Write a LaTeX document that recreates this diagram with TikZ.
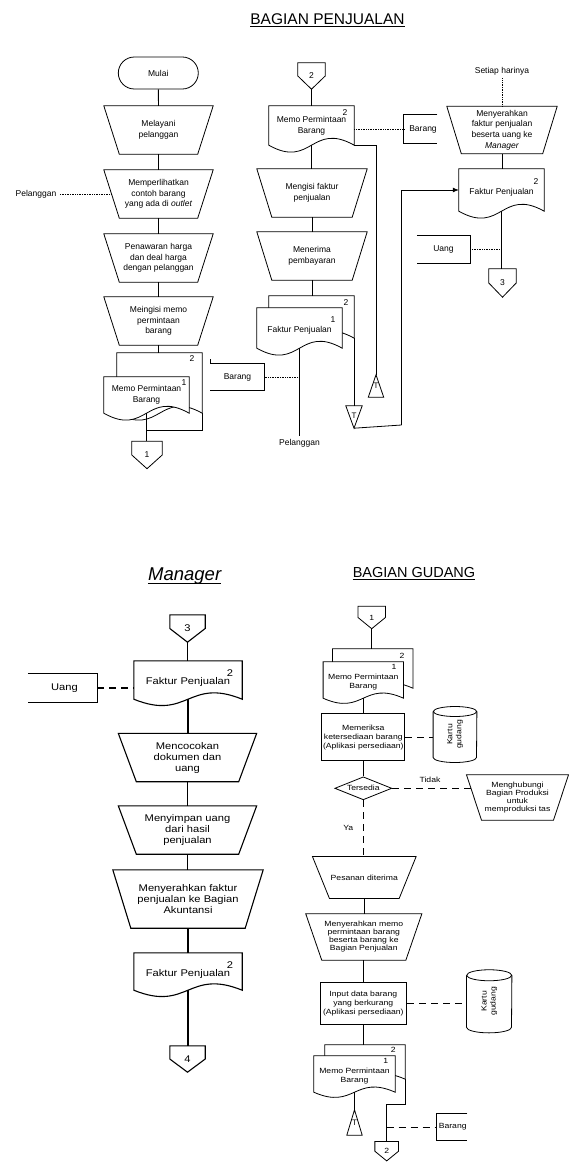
\documentclass[tikz,border=0pt]{standalone}
\usepackage{fontspec}
\setmainfont{Liberation Sans}
\newfontfamily\gfont[FakeStretch=1.15]{Liberation Sans}
\usetikzlibrary{calc,shapes.geometric,arrows.meta}
\pgfdeclarelayer{back}
\pgfdeclarelayer{bg}
\pgfsetlayers{back,bg,main}

\newcommand\docout[3][shp]{\begin{pgfonlayer}{bg}\draw[#1,fill=white] (#2.south west) -- (#2.north west) -- (#2.north east) -- (#2.south east) .. controls ($(#2.south)+(0,-#3)$) and ($(#2.south)+(0,#3)$) .. (#2.south west) -- cycle;\end{pgfonlayer}}
\newcommand\trapout[3][shp]{\begin{pgfonlayer}{bg}\draw[#1] (#2.north west) -- (#2.north east) -- ($(#2.south east)+(-#3,0)$) -- ($(#2.south west)+(#3,0)$) -- cycle;\end{pgfonlayer}}
\newcommand\offout[2][shp]{\begin{pgfonlayer}{bg}\draw[#1] (#2.north west) -- (#2.north east) -- (#2.east) -- (#2.south) -- (#2.west) -- cycle;\end{pgfonlayer}}
\newcommand\triup[2][shp]{\begin{pgfonlayer}{bg}\draw[#1] (#2.south west) -- (#2.north) -- (#2.south east) -- cycle;\end{pgfonlayer}}
\newcommand\tridown[2][shp]{\begin{pgfonlayer}{bg}\draw[#1] (#2.north west) -- (#2.north east) -- (#2.south) -- cycle;\end{pgfonlayer}}
\newcommand\openleft[2][shp]{\begin{pgfonlayer}{bg}\draw[#1] (#2.north west) -- (#2.north east) -- (#2.south east) -- (#2.south west);\end{pgfonlayer}}
\newcommand\openright[2][shp]{\begin{pgfonlayer}{bg}\draw[#1] (#2.north east) -- (#2.north west) -- (#2.south west) -- (#2.south east);\end{pgfonlayer}}
\newcommand\cylout[4][shp]{\begin{pgfonlayer}{bg}\draw[#1] ($(#2.north west)+(0,#4)$) -- ($(#2.south west)+(0,-#4)$) arc[start angle=180, end angle=360, x radius=#3pt, y radius=#4pt] -- ($(#2.north east)+(0,#4)$);
\draw[#1] ($(#2.north)+(0,#4)$) ellipse[x radius=#3pt, y radius=#4pt];\end{pgfonlayer}}

\tikzset{
  shp/.style={draw=black, line width=0.8pt},
  shpb/.style={draw=black, line width=1.1pt},
  ln/.style={draw=black, line width=0.8pt},
  lnb/.style={draw=black, line width=1.1pt},
  dotl/.style={draw=black, line width=0.6pt, dash pattern=on 1pt off 0.7pt},
  dashl/.style={draw=black, line width=1.1pt, dash pattern=on 7pt off 5pt},
  bx/.style={rectangle, inner sep=0.5pt, align=center},
  tf/.style={font=\fontsize{8.5}{10.7}\selectfont},
  mf/.style={font=\gfont\fontsize{9.7}{11}\selectfont},
  gf/.style={font=\gfont\fontsize{7.5}{9}\selectfont},
  gft/.style={font=\gfont\fontsize{7.5}{8}\selectfont},
}

\begin{document}
\begin{tikzpicture}[x=1pt,y=-1pt]
\begin{pgfonlayer}{back}
\fill[white] (0,0) rectangle (569,1162);
\end{pgfonlayer}
\useasboundingbox (0,0) rectangle (569,1162);

% ================= BAGIAN PENJUALAN =================
\node[inner sep=0pt, anchor=base, font=\fontsize{15.5}{18}\selectfont] (ttl1) at (327.5,24) {BAGIAN PENJUALAN};
\draw[line width=0.9pt] ($(ttl1.base west)+(0,2.5)$) -- ($(ttl1.base east)+(0,2.5)$);

% --- left column
\node[tf, rectangle, rounded corners=16pt, draw, line width=0.8pt, minimum width=80pt, minimum height=32pt] (mulai) at (158.3,73) {Mulai};
\node[bx,tf,minimum width=109pt,minimum height=48pt] (t1) at (158.5,130) {Melayani\\pelanggan};
\trapout{t1}{15.5}
\node[bx,tf,minimum width=109pt,minimum height=48pt] (t2) at (158.5,194) {Memperlihatkan\\contoh barang\\yang ada di \textit{outlet}};
\trapout{t2}{15.5}
\node[bx,tf,minimum width=109pt,minimum height=48pt] (t3) at (158.5,258) {Penawaran harga\\dan deal harga\\dengan pelanggan};
\trapout{t3}{15.5}
\node[bx,tf,minimum width=109pt,minimum height=48pt] (t4) at (158.5,321) {Meingisi memo\\permintaan\\barang};
\trapout{t4}{15.5}

\node[bx,minimum width=85pt,minimum height=60pt] (m1b) at (159.5,383) {};
\docout{m1b}{24}
\node[bx,tf,minimum width=85pt,minimum height=36pt] (m1f) at (146.5,395) {Memo Permintaan\\Barang};
\docout{m1f}{24}
\node[tf,inner sep=0pt] (m1n2) at (192,359) {2};
\node[tf,inner sep=0pt] (m1n1) at (184,383) {1};

\node[bx,tf,minimum width=30pt,minimum height=27pt] (c1) at (147,455) {1};
\offout{c1}

\node[tf] (pel1) at (36,194) {Pelanggan};

\node[bx,tf,minimum width=54pt,minimum height=27pt] (brg1) at (237.5,377) {Barang};
\openleft{brg1}
\draw[shp] (brg1.north west) -- ++(0,-4);

\draw[ln] (mulai) -- (t1);
\draw[ln] (t1) -- (t2);
\draw[ln] (t2) -- (t3);
\draw[ln] (t3) -- (t4);
\draw[ln] (t4.south) -- (t4.south |- m1b.north);
\coordinate (j1) at (146.5,430);
\draw[ln] (m1b.south east) |- (j1);
\draw[ln] (m1f.south) -- (m1f.south |- c1.north);
\draw[dotl] (pel1.east) -- ($(t2.west)+(7.8,0)$);

% --- middle column
\node[bx,tf,minimum width=27pt,minimum height=26pt] (c2) at (311.5,76) {2};
\offout{c2}
\node[bx,tf,minimum width=85pt,minimum height=39pt] (d2) at (311.5,125.5) {Memo Permintaan\\Barang};
\docout{d2}{24}
\node[tf,inner sep=0pt] (d2n) at (345,113) {2};
\node[bx,tf,minimum width=33pt,minimum height=29pt] (brg2) at (420.5,129) {\hspace*{5pt}Barang};
\openright{brg2}
\node[bx,font=\fontsize{8}{9}\selectfont,minimum width=15pt,minimum height=22pt] (tu) at (376,386) {\raisebox{-3pt}{T}};
\triup{tu}
\node[bx,tf,minimum width=110pt,minimum height=48pt] (t5) at (312,193) {Mengisi faktur\\penjualan};
\trapout{t5}{15}
\node[bx,tf,minimum width=110pt,minimum height=48pt] (t6) at (312,256) {Menerima\\pembayaran};
\trapout{t6}{15}

\node[bx,minimum width=85pt,minimum height=42pt] (m2b) at (311.5,317) {};
\docout{m2b}{24}
\node[bx,tf,minimum width=85pt,minimum height=40pt] (m2f) at (299.5,328) {\\Faktur Penjualan};
\docout{m2f}{24}
\node[tf,inner sep=0pt] (m2n2) at (346,303) {2};
\node[tf,inner sep=0pt] (m2n1) at (333,320) {1};

\node[bx,font=\fontsize{8}{9}\selectfont,minimum width=16pt,minimum height=22pt] (td) at (354,417) {\raisebox{3pt}{T}};
\tridown{td}
\node[tf] (pel2) at (299.5,443) {Pelanggan};

\draw[ln] (c2.south) -- (c2.south |- d2.north);
\draw[dotl] (d2.east |- brg2.west) -- (brg2.west);
\draw[ln] (d2.south east) -| (tu.north);
\draw[ln] (d2.south) -- (d2.south |- t5.north);
\draw[ln] (t5) -- (t6);
\draw[ln] (t6.south) -- (t6.south |- m2b.north);
\draw[ln] (m2b.south east) -- (m2b.south east |- td.north);
\draw[ln] (m2f.south) -- (m2f.south |- pel2.north);
\draw[dotl] (brg1.east) -- (brg1.east -| m2f.south);

% --- right column
\node[tf] (set) at (502,71) {Setiap harinya};
\node[bx,font=\fontsize{8.5}{10.6}\selectfont,minimum width=110pt,minimum height=47pt] (t7) at (502,130) {Menyerahkan\\faktur penjualan\\beserta uang ke\\\textit{Manager}};
\trapout{t7}{14.5}
\node[bx,tf,minimum width=85pt,minimum height=42pt] (d3) at (501.5,190) {\\Faktur Penjualan};
\docout{d3}{24}
\node[tf,inner sep=0pt] (d3n) at (536,182) {2};
\node[bx,tf,minimum width=27pt,minimum height=28pt] (c3) at (502.5,283) {3};
\offout{c3}
\node[bx,tf,minimum width=53pt,minimum height=27pt] (uang1) at (443.5,249.5) {Uang};
\openleft{uang1}

\draw[dotl] (set.south) -- (set.south |- t7.north);
\draw[ln] (t7.south) -- (t7.south |- d3.north);
\draw[ln] (d3.south) -- (d3.south |- c3.north);
\draw[dotl] (uang1.east) -- (uang1.east -| d3.south);
\coordinate (jt) at (401.5,425);
\draw[ln] (td.south) -- (jt);
\draw[ln,-{Latex[length=6pt,width=5pt]}] (jt) |- (d3.west);

% ================= MANAGER =================
\node[inner sep=0pt, anchor=base, font=\fontsize{18.5}{22}\selectfont\itshape] (ttl2) at (184.7,580) {Manager};
\draw[line width=1pt] ($(ttl2.base west)+(0,3)$) -- ($(ttl2.base east)+(0,3)$);

\node[bx,mf,minimum width=35pt,minimum height=27pt] (c3b) at (187.5,628.5) {3};
\offout[shpb]{c3b}
\node[bx,mf,minimum width=108pt,minimum height=38pt] (d4) at (188,680) {\\Faktur Penjualan};
\docout[shpb]{d4}{22}
\node[mf,inner sep=0pt] (d4n) at (230,673) {2};
\node[bx,mf,minimum width=69pt,minimum height=28pt] (uang2) at (62.5,688) {\hspace*{4pt}Uang};
\openleft[shpb]{uang2}
\node[bx,mf,minimum width=138pt,minimum height=48pt] (t8) at (187.5,757.5) {Mencocokan\\dokumen dan\\uang};
\trapout[shpb]{t8}{18}
\node[bx,mf,minimum width=138pt,minimum height=48pt] (t9) at (187.5,830) {Menyimpan uang\\dari hasil\\penjualan};
\trapout[shpb]{t9}{18}
\node[bx,mf,minimum width=150pt,minimum height=58pt] (t10) at (188,899) {Menyerahkan faktur\\penjualan ke Bagian\\Akuntansi};
\trapout[shpb]{t10}{18}
\node[bx,mf,minimum width=108pt,minimum height=37pt] (d5) at (188,971.5) {\\Faktur Penjualan};
\docout[shpb]{d5}{22}
\node[mf,inner sep=0pt] (d5n) at (230,965) {2};
\node[bx,mf,minimum width=35pt,minimum height=26pt] (c4) at (187.5,1059) {4};
\offout[shpb]{c4}

\draw[lnb] (c3b.south) -- (c3b.south |- d4.north);
\draw[dashl] (uang2.east) -- (uang2.east -| d4.west);
\draw[lnb] (d4.south) -- (d4.south |- t8.north);
\draw[lnb] (t8) -- (t9);
\draw[lnb] (t9.south) -- (t9.south |- t10.north);
\draw[lnb] (t10) -- (d5);
\draw[lnb] (d5.south) -- (d5.south |- c4.north);

% ================= BAGIAN GUDANG =================
\node[inner sep=0pt, anchor=base, font=\fontsize{14.5}{17}\selectfont] (ttl3) at (414,577) {BAGIAN GUDANG};
\draw[line width=0.9pt] ($(ttl3.base west)+(0,2.5)$) -- ($(ttl3.base east)+(0,2.5)$);

\node[bx,gf,minimum width=27pt,minimum height=22pt] (c1b) at (371.7,617.5) {1};
\offout{c1b}
\node[bx,minimum width=80pt,minimum height=39pt] (m3b) at (372.7,668.5) {};
\docout{m3b}{18}
\node[bx,gf,minimum width=80pt,minimum height=36pt] (m3f) at (363.3,680) {\\Memo Permintaan\\Barang};
\docout{m3f}{18}
\node[gf,inner sep=0pt] (m3n2) at (402,656) {2};
\node[gf,inner sep=0pt] (m3n1) at (394,667) {1};

\node[bx,gf,draw,line width=0.8pt,minimum width=83pt,minimum height=47pt] (r1) at (363.3,737.3) {Memeriksa\\ketersediaan barang\\(Aplikasi persediaan)};
\node[bx,gf,minimum width=43.4pt,minimum height=55.6pt] (cy1) at (455,734.5) {\rotatebox{90}{\begin{tabular}{@{}c@{}}Kartu\\gudang\end{tabular}}};
\cylout{cy1}{21.7}{5}
\node[diamond,draw,line width=0.8pt,aspect=2.5,inner sep=0pt,minimum width=57pt,minimum height=23pt,gf] (dia) at (363.3,788.3) {Tersedia};
\node[bx,gft,minimum width=101.6pt,minimum height=45pt] (t11) at (517.5,797.5) {\\[-2pt]Menghubungi\\Bagian Produksi\\untuk\\memproduksi tas};
\trapout{t11}{15}
\node[gf] (tidak) at (430,780) {Tidak};
\node[gf] (ya) at (348.3,828.3) {Ya};
\node[bx,gf,minimum width=103.3pt,minimum height=41.6pt] (t12) at (364.3,877.5) {Pesanan diterima};
\trapout{t12}{17}
\node[bx,gft,minimum width=115.7pt,minimum height=46pt] (t13) at (363.8,937) {Menyerahkan memo\\permintaan barang\\beserta barang ke\\Bagian Penjualan};
\trapout{t13}{16}
\node[bx,gf,draw,line width=0.8pt,minimum width=86.7pt,minimum height=41.3pt] (r2) at (363.3,1003.3) {Input data barang\\yang berkurang\\(Aplikasi persediaan)};
\node[bx,gf,minimum width=45pt,minimum height=62.7pt] (cy2) at (489.2,1001.3) {\rotatebox{90}{\begin{tabular}{@{}c@{}}Kartu\\gudang\end{tabular}}};
\cylout{cy2}{22.5}{5.5}

\node[bx,minimum width=80pt,minimum height=34pt] (m4b) at (365,1062) {};
\docout{m4b}{18}
\node[bx,gf,minimum width=81pt,minimum height=36pt] (m4f) at (354.5,1074) {\\Memo Permintaan\\Barang};
\docout{m4f}{18}
\node[gf,inner sep=0pt] (m4n2) at (393.3,1050) {2};
\node[gf,inner sep=0pt] (m4n1) at (385.7,1061) {1};
\node[bx,font=\fontsize{8}{9}\selectfont,minimum width=15pt,minimum height=25pt] (tri2) at (354.5,1122.5) {\raisebox{-4pt}{T}};
\triup{tri2}
\node[bx,gf,minimum width=23.3pt,minimum height=19pt] (c2b) at (386.7,1151.2) {2};
\offout{c2b}
\node[bx,gf,minimum width=30pt,minimum height=26pt] (brg3) at (451.7,1127) {\hspace*{2pt}Barang};
\openright{brg3}

\draw[ln] (c1b.south) -- (c1b.south |- m3b.north);
\draw[ln] (m3f.south) -- (m3f.south |- r1.north);
\draw[dashl,line width=0.9pt] (r1.east) -- (r1.east -| cy1.west);
\draw[ln] (r1.south) -- (r1.south |- dia.north);
\draw[dashl,line width=0.9pt] (dia.east) -- ($(dia.east -| t11.west)+(4.3,0)$);
\draw[dashl,line width=0.9pt] (dia.south) -- (dia.south |- t12.north);
\draw[ln] (t12.south) -- (t12.south |- t13.north);
\draw[ln] (t13.south) -- (t13.south |- r2.north);
\draw[dashl,line width=0.9pt] (r2.east) -- (r2.east -| cy2.west);
\draw[ln] (r2.south) -- (r2.south |- m4b.north);
\coordinate (j4) at (386.7,1104);
\draw[ln] (m4b.south east) |- (j4) -- (j4 |- c2b.north);
\draw[ln] (m4f.south) -- (m4f.south |- tri2.north);
\draw[dashl,line width=0.9pt] (brg3.west -| j4) -- (brg3.west);

\end{tikzpicture}
\end{document}
